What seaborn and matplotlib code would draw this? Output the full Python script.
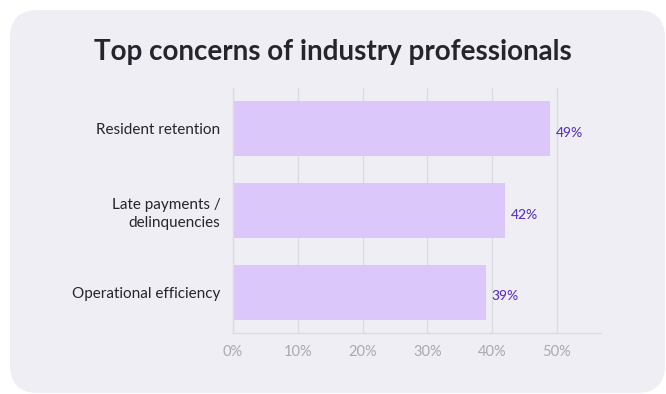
import matplotlib
matplotlib.use("Agg")
import matplotlib.pyplot as plt
from matplotlib.patches import FancyBboxPatch
from matplotlib.ticker import FuncFormatter
import seaborn as sns
import pandas as pd

# Survey results
concerns = ["Resident retention", "Late payments /\ndelinquencies", "Operational efficiency"]
shares = [49, 42, 39]
x_ticks = [0, 10, 20, 30, 40, 50]

title = "Top concerns of industry professionals"

card_bg = "#efeef5"
bar_color = "#dcc7fb"
label_color = "#5a32c4"
text_dark = "#26252e"
tick_gray = "#aaa9b2"
grid_gray = "#dcdbe2"

sns.set_theme(style="white")
plt.rcParams["font.family"] = ["Lato", "DejaVu Sans"]

df = pd.DataFrame({"concern": concerns, "share": shares})

W, H = 666, 394
fig = plt.figure(figsize=(W / 100, H / 100), dpi=100)
fig.patch.set_facecolor("white")

# Rounded card behind the chart (inch units)
card = FancyBboxPatch((0.10, 0.01), 6.55, 3.83,
                      boxstyle="round,pad=0,rounding_size=0.28",
                      transform=fig.dpi_scale_trans, facecolor=card_bg,
                      edgecolor="none", zorder=-10)
fig.patches.append(card)

ax = fig.add_axes([233 / W, 1 - 333 / H, (601 - 233) / W, (333 - 88) / H])
ax.set_facecolor("none")
ax.set_zorder(1)

sns.barplot(data=df, y="concern", x="share", orient="h", color=bar_color,
            width=0.67, saturation=1, linewidth=0, ax=ax, zorder=2)

ax.set_xlim(0, 56.8)
ax.set_ylim(2.5, -0.5)
ax.set_xticks(x_ticks)
ax.xaxis.set_major_formatter(FuncFormatter(lambda v, p: f"{v:.0f}%"))
ax.grid(axis="x", color=grid_gray, linewidth=1, zorder=0)
ax.set_axisbelow(True)

for s in ["top", "right"]:
    ax.spines[s].set_visible(False)
for s in ["left", "bottom"]:
    ax.spines[s].set_color(grid_gray)
    ax.spines[s].set_linewidth(1)

ax.set_xlabel("")
ax.set_ylabel("")
ax.tick_params(axis="x", colors=tick_gray, labelsize=10.5, length=0, pad=9)
ax.tick_params(axis="y", colors=text_dark, labelsize=11, length=0, pad=9)
for lbl in ax.get_yticklabels():
    lbl.set_color(text_dark)
    lbl.set_horizontalalignment("right")
    lbl.set_multialignment("right")
    lbl.set_linespacing(1.35)

for bar, val in zip(ax.patches, shares):
    ax.annotate(f"{val}%", (val, bar.get_y() + bar.get_height() / 2),
                xytext=(4, -3), textcoords="offset points",
                ha="left", va="center", color=label_color, fontsize=10,
                fontweight="medium")

fig.text(0.5, 1 - 52 / H, title, ha="center", va="center",
         fontsize=20, fontweight="bold", color=text_dark)

fig.savefig("out.png", dpi=100, facecolor="white")
